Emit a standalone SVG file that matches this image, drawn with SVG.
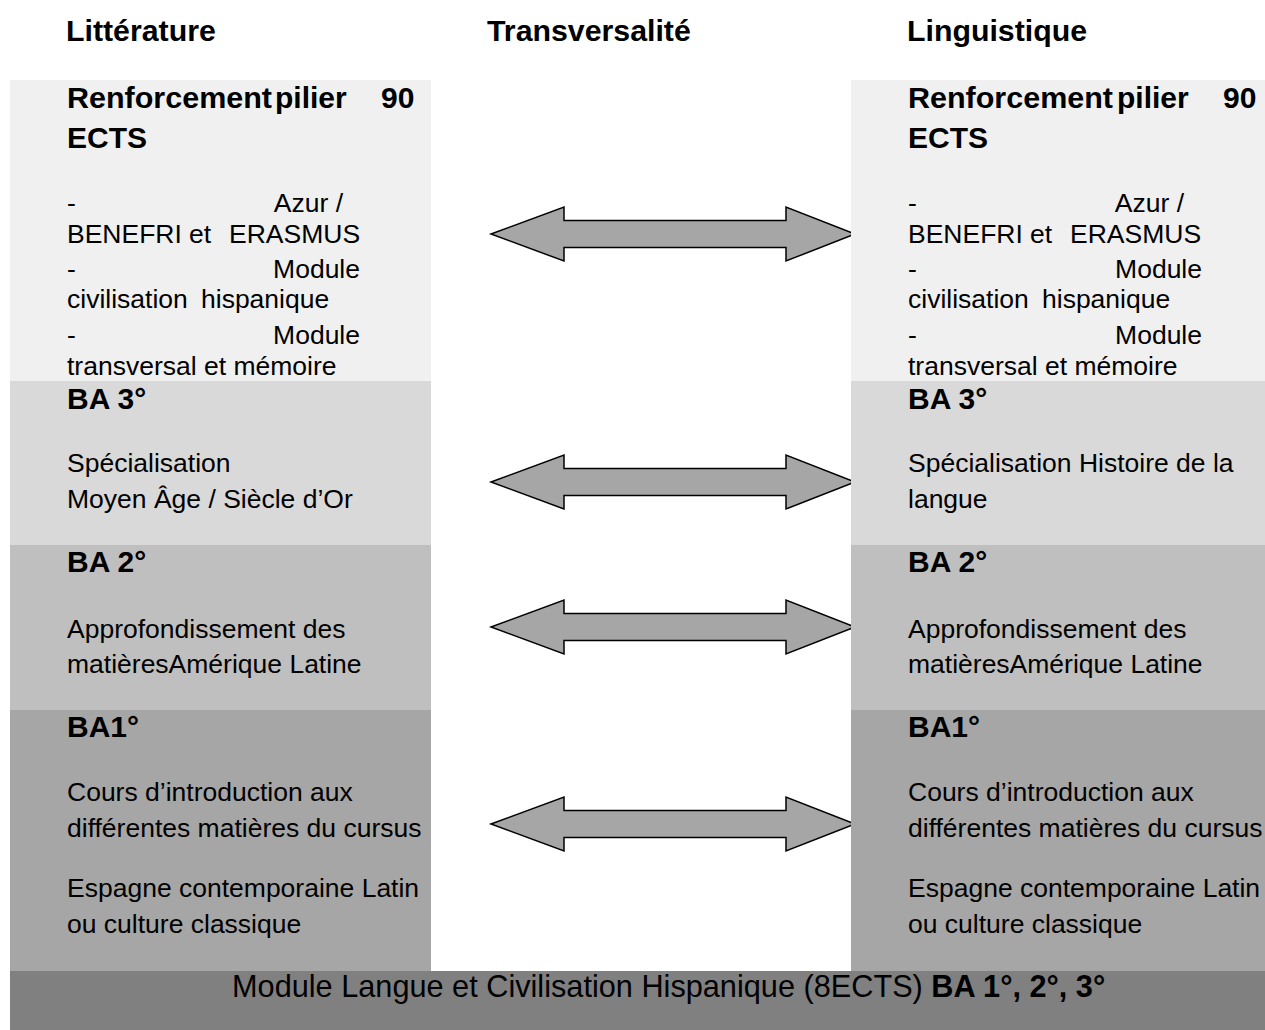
<svg xmlns="http://www.w3.org/2000/svg" width="1265" height="1030" viewBox="0 0 1265 1030">
<style>
text{font-family:"Liberation Sans",Arial,sans-serif;fill:#000}
.h{font-size:30.3px;font-weight:bold}
.b{font-size:30px;font-weight:bold}
.t{font-size:26.5px}
.m{font-size:30.7px}
.arrow{fill:#a6a6a6;stroke:#000;stroke-width:1.5;stroke-linejoin:miter}
.c0{fill:#f0f0f0}.c3{fill:#d9d9d9}.c2{fill:#bfbfbf}.c1{fill:#a6a6a6}.c4{fill:#808080}
</style>
<defs>
<path id="dbl" d="M0,0 L73,-27 L73,-13.5 L295,-13.5 L295,-27 L364,0 L295,27 L295,13.5 L73,13.5 L73,27 Z"/>
</defs>
<rect width="1265" height="1030" fill="#fff"/>

<g id="headers">
<text class="h" x="66" y="41">Littérature</text>
<text class="h" x="487" y="41">Transversalité</text>
<text class="h" x="907" y="41">Linguistique</text>
</g>

<g id="left-column">
<g id="left-pilier">
<rect class="c0" x="10" y="80" width="421" height="301"/>
<text class="b" x="67" y="108" textLength="205" lengthAdjust="spacingAndGlyphs">Renforcement</text>
<text class="b" x="275" y="108">pilier</text>
<text class="b" x="381" y="108">90</text>
<text class="b" x="67" y="148">ECTS</text>
<text class="t" x="67" y="212">-</text>
<text class="t" x="343" y="212" text-anchor="end">Azur /</text>
<text class="t" y="243"><tspan x="67">BENEFRI</tspan><tspan x="189">et</tspan><tspan x="229">ERASMUS</tspan></text>
<text class="t" x="67" y="278">-</text>
<text class="t" x="360" y="278" text-anchor="end">Module</text>
<text class="t" y="308"><tspan x="67">civilisation</tspan><tspan x="201">hispanique</tspan></text>
<text class="t" x="67" y="344">-</text>
<text class="t" x="360" y="344" text-anchor="end">Module</text>
<text class="t" x="67" y="375">transversal et mémoire</text>
</g>
<g id="left-ba3">
<rect class="c3" x="10" y="381" width="421" height="164"/>
<text class="b" x="67" y="409">BA 3°</text>
<text class="t" x="67" y="472">Spécialisation</text>
<text class="t" x="67" y="508">Moyen Âge / Siècle d’Or</text>
</g>
<g id="left-ba2">
<rect class="c2" x="10" y="545" width="421" height="165"/>
<text class="b" x="67" y="572">BA 2°</text>
<text class="t" x="67" y="638">Approfondissement des</text>
<text class="t" x="67" y="673">matièresAmérique Latine</text>
</g>
<g id="left-ba1">
<rect class="c1" x="10" y="710" width="421" height="261"/>
<text class="b" x="67" y="737">BA1°</text>
<text class="t" x="67" y="801">Cours d’introduction aux</text>
<text class="t" x="67" y="837">différentes matières du cursus</text>
<text class="t" x="67" y="897">Espagne contemporaine Latin</text>
<text class="t" x="67" y="933">ou culture classique</text>
</g>
</g>

<g id="connectors">
<use href="#dbl" class="arrow" x="491" y="234"/>
<use href="#dbl" class="arrow" x="491" y="482"/>
<use href="#dbl" class="arrow" x="491" y="627"/>
<use href="#dbl" class="arrow" x="491" y="824"/>
</g>

<g id="right-column">
<g id="right-pilier">
<rect class="c0" x="851" y="80" width="414" height="301"/>
<text class="b" x="908" y="108" textLength="205" lengthAdjust="spacingAndGlyphs">Renforcement</text>
<text class="b" x="1117" y="108">pilier</text>
<text class="b" x="1223" y="108">90</text>
<text class="b" x="908" y="148">ECTS</text>
<text class="t" x="908" y="212">-</text>
<text class="t" x="1184" y="212" text-anchor="end">Azur /</text>
<text class="t" y="243"><tspan x="908">BENEFRI</tspan><tspan x="1030">et</tspan><tspan x="1070">ERASMUS</tspan></text>
<text class="t" x="908" y="278">-</text>
<text class="t" x="1202" y="278" text-anchor="end">Module</text>
<text class="t" y="308"><tspan x="908">civilisation</tspan><tspan x="1042">hispanique</tspan></text>
<text class="t" x="908" y="344">-</text>
<text class="t" x="1202" y="344" text-anchor="end">Module</text>
<text class="t" x="908" y="375">transversal et mémoire</text>
</g>
<g id="right-ba3">
<rect class="c3" x="851" y="381" width="414" height="164"/>
<text class="b" x="908" y="409">BA 3°</text>
<text class="t" x="908" y="472">Spécialisation Histoire de la</text>
<text class="t" x="908" y="508">langue</text>
</g>
<g id="right-ba2">
<rect class="c2" x="851" y="545" width="414" height="165"/>
<text class="b" x="908" y="572">BA 2°</text>
<text class="t" x="908" y="638">Approfondissement des</text>
<text class="t" x="908" y="673">matièresAmérique Latine</text>
</g>
<g id="right-ba1">
<rect class="c1" x="851" y="710" width="414" height="261"/>
<text class="b" x="908" y="737">BA1°</text>
<text class="t" x="908" y="801">Cours d’introduction aux</text>
<text class="t" x="908" y="837">différentes matières du cursus</text>
<text class="t" x="908" y="897">Espagne contemporaine Latin</text>
<text class="t" x="908" y="933">ou culture classique</text>
</g>
</g>

<g id="module-band">
<rect class="c4" x="10" y="971" width="1255" height="59"/>
<text class="m" x="232" y="997">Module Langue et Civilisation Hispanique (8ECTS) <tspan font-weight="bold">BA 1°, 2°, 3°</tspan></text>
</g>
</svg>
